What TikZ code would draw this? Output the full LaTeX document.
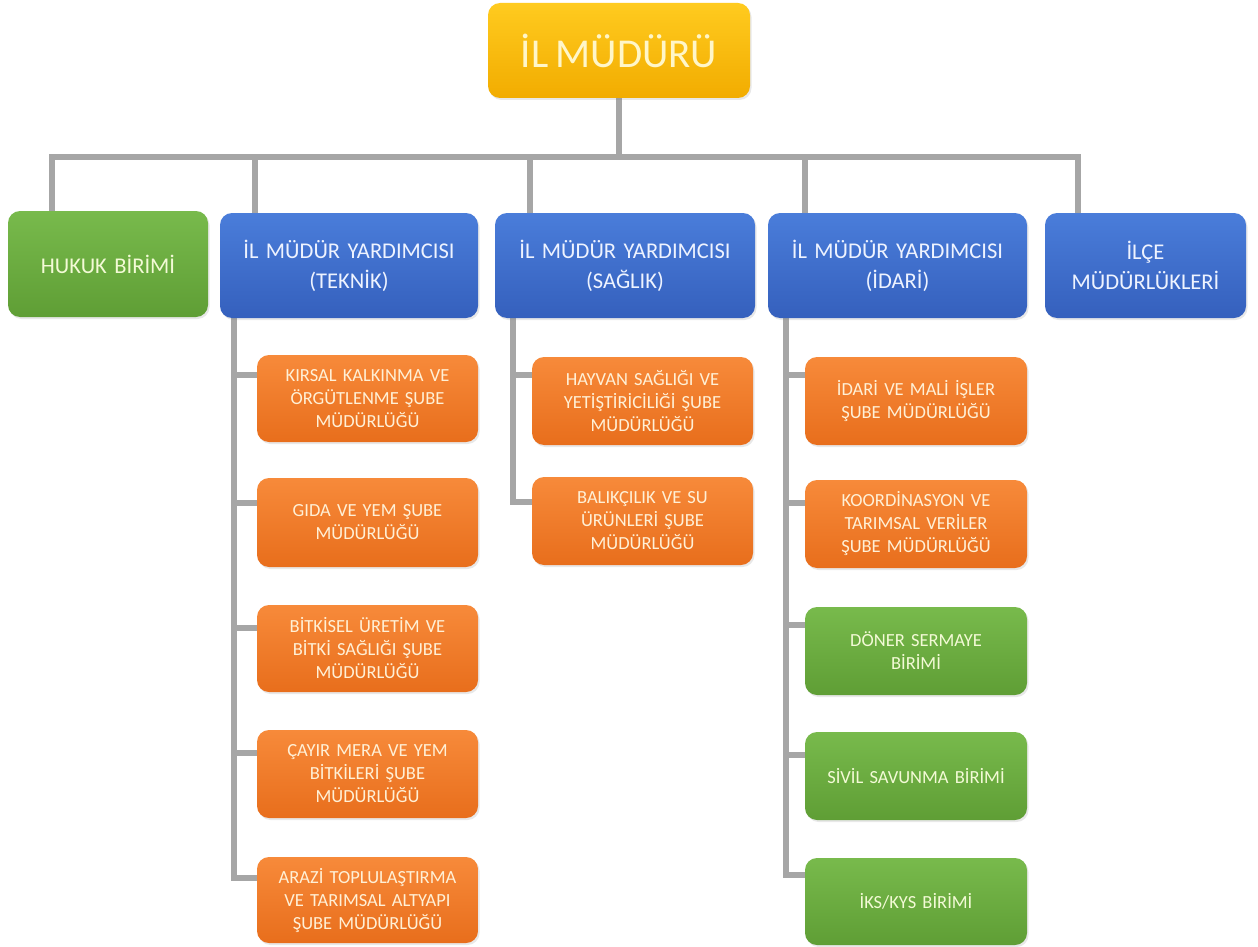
\documentclass[tikz,border=0pt]{standalone}
\usepackage{fontspec}
\setmainfont{Carlito}[WordSpace=0.8]
\usetikzlibrary{backgrounds,calc,shadows}
\definecolor{conncol}{HTML}{A6A6A6}
\definecolor{yelT}{HTML}{FFCB1F}
\definecolor{yelB}{HTML}{F2AC00}
\definecolor{yeltext}{HTML}{FFF6C8}
\definecolor{bluT}{HTML}{4A7DDA}
\definecolor{bluB}{HTML}{3560BD}
\definecolor{blutext}{HTML}{EEF3FF}
\definecolor{grnT}{HTML}{78BA4C}
\definecolor{grnB}{HTML}{5F9E35}
\definecolor{grntext}{HTML}{F3FAD6}
\definecolor{orgT}{HTML}{F78A3A}
\definecolor{orgB}{HTML}{E86E1C}
\definecolor{orgtext}{HTML}{FFF0D6}
\tikzset{
  conn/.style={draw=conncol, line width=6.5pt},
  box/.style={rounded corners=12pt, inner sep=0pt, align=center,
    drop shadow={opacity=0.18, shadow xshift=1.5pt, shadow yshift=-2pt}},
  topbox/.style={box, top color=yelT, bottom color=yelB, text=yeltext,
    minimum width=262pt, minimum height=95pt, font=\fontsize{41}{46}\selectfont},
  bluebox/.style={box, top color=bluT, bottom color=bluB, text=blutext,
    minimum height=105pt, font=\fontsize{22.5}{30}\selectfont},
  greenbox/.style={box, top color=grnT, bottom color=grnB, text=grntext},
  grnrow/.style={greenbox, minimum height=106pt, font=\fontsize{22.5}{30}\selectfont},
  grnsub/.style={greenbox, minimum width=222pt, text width=214pt, font=\fontsize{18.5}{23}\selectfont},
  orgsub/.style={box, top color=orgT, bottom color=orgB, text=orgtext,
    minimum width=221pt, text width=215pt, font=\fontsize{18.5}{23}\selectfont},
}
\begin{document}
\begin{tikzpicture}[x=1pt,y=-1pt]
\useasboundingbox (0,0) rectangle (1258,947);

% top
\node[topbox] (top) at (619,50.5) {İL MÜDÜRÜ};

% second row
\node[grnrow, minimum width=200pt, text width=190pt] (hukuk) at (108,264) {HUKUK BİRİMİ};
\node[bluebox, minimum width=258pt, text width=250pt] (teknik) at (349,265.5) {İL MÜDÜR YARDIMCISI\\(TEKNİK)};
\node[bluebox, minimum width=260pt, text width=250pt] (saglik) at (625,265.5) {İL MÜDÜR YARDIMCISI\\(SAĞLIK)};
\node[bluebox, minimum width=259pt, text width=250pt] (idari) at (897.5,265.5) {İL MÜDÜR YARDIMCISI\\(İDARİ)};
\node[bluebox, minimum width=201pt, text width=195pt] (ilce) at (1145.5,265.5) {İLÇE\\MÜDÜRLÜKLERİ};

% teknik children
\node[orgsub, minimum height=87pt] (k1) at (367.5,398.5) {KIRSAL KALKINMA VE\\ÖRGÜTLENME ŞUBE\\MÜDÜRLÜĞÜ};
\node[orgsub, minimum height=89pt] (k2) at (367.5,522.5) {GIDA VE YEM ŞUBE\\MÜDÜRLÜĞÜ};
\node[orgsub, minimum height=87pt] (k3) at (367.5,648.5) {BİTKİSEL ÜRETİM VE\\BİTKİ SAĞLIĞI ŞUBE\\MÜDÜRLÜĞÜ};
\node[orgsub, minimum height=88pt] (k4) at (367.5,774) {ÇAYIR MERA VE YEM\\BİTKİLERİ ŞUBE\\MÜDÜRLÜĞÜ};
\node[orgsub, minimum height=86pt] (k5) at (367.5,900) {ARAZİ TOPLULAŞTIRMA\\VE TARIMSAL ALTYAPI\\ŞUBE MÜDÜRLÜĞÜ};

% saglik children
\node[orgsub, minimum height=88pt] (s1) at (642.5,401) {HAYVAN SAĞLIĞI VE\\YETİŞTİRİCİLİĞİ ŞUBE\\MÜDÜRLÜĞÜ};
\node[orgsub, minimum height=88pt] (s2) at (642.5,521) {BALIKÇILIK VE SU\\ÜRÜNLERİ ŞUBE\\MÜDÜRLÜĞÜ};

% idari children
\node[orgsub, minimum width=222pt, minimum height=88pt] (i1) at (916,401) {İDARİ VE MALİ İŞLER\\ŞUBE MÜDÜRLÜĞÜ};
\node[orgsub, minimum width=222pt, minimum height=88pt] (i2) at (916,524) {KOORDİNASYON VE\\TARIMSAL VERİLER\\ŞUBE MÜDÜRLÜĞÜ};
\node[grnsub, minimum height=88pt] (i3) at (916,651) {DÖNER SERMAYE\\BİRİMİ};
\node[grnsub, minimum height=88pt] (i4) at (916,776) {SİVİL SAVUNMA BİRİMİ};
\node[grnsub, minimum height=87pt] (i5) at (916,901.5) {İKS/KYS BİRİMİ};

% connector coordinates
\coordinate (bh) at (52,157);
\coordinate (bt) at (255,157);
\coordinate (bs) at (530,157);
\coordinate (bi) at (805,157);
\coordinate (bc) at (1078,157);
\coordinate (tsp) at (234,0);
\coordinate (ssp) at (513,0);
\coordinate (isp) at (786,0);
\coordinate (k1s) at ($(k1.north west)+(0,20)$);
\coordinate (k2s) at ($(k2.north west)+(0,25)$);
\coordinate (k3s) at ($(k3.north west)+(0,23)$);
\coordinate (k4s) at ($(k4.north west)+(0,23)$);
\coordinate (k5s) at ($(k5.north west)+(0,21)$);
\coordinate (s1s) at ($(s1.north west)+(0,18)$);
\coordinate (s2s) at ($(s2.north west)+(0,25)$);
\coordinate (i1s) at ($(i1.north west)+(0,18)$);
\coordinate (i2s) at ($(i2.north west)+(0,23)$);
\coordinate (i3s) at ($(i3.north west)+(0,18)$);
\coordinate (i4s) at ($(i4.north west)+(0,23)$);
\coordinate (i5s) at ($(i5.north west)+(0,17)$);

\begin{scope}[on background layer]
  \fill[white] (0,0) rectangle (1258,947);
  \draw[conn] (top.south) -- (top.south |- bh);
  \draw[conn, line cap=rect] (bh) -- (bc);
  \draw[conn] (bh) -- (bh |- hukuk.north);
  \draw[conn] (bt) -- (bt |- teknik.north);
  \draw[conn] (bs) -- (bs |- saglik.north);
  \draw[conn] (bi) -- (bi |- idari.north);
  \draw[conn] (bc) -- (bc |- ilce.north);
  % teknik spine
  \draw[conn] (tsp |- teknik.south) |- (k5s);
  \foreach \n in {k1s,k2s,k3s,k4s} \draw[conn] (tsp |- \n) -- (\n);
  % saglik spine
  \draw[conn] (ssp |- saglik.south) |- (s2s);
  \draw[conn] (ssp |- s1s) -- (s1s);
  % idari spine
  \draw[conn] (isp |- idari.south) |- (i5s);
  \foreach \n in {i1s,i2s,i3s,i4s} \draw[conn] (isp |- \n) -- (\n);
\end{scope}
\end{tikzpicture}
\end{document}
